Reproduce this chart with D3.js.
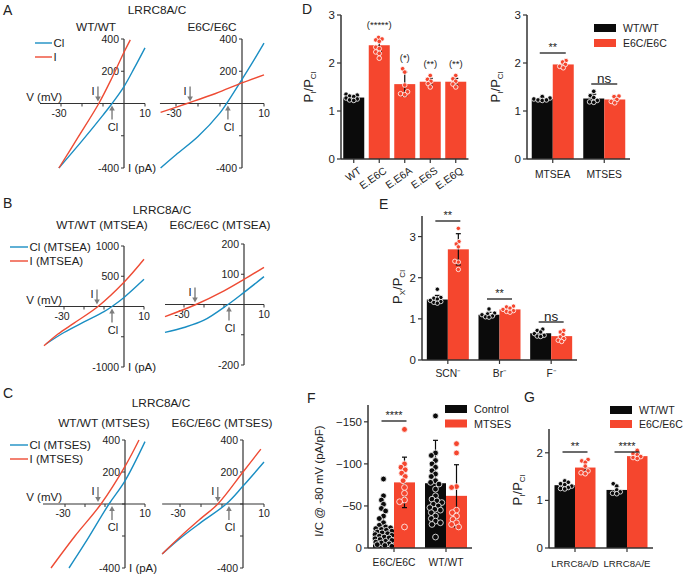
<!DOCTYPE html>
<html><head><meta charset="utf-8">
<script src="https://cdn.jsdelivr.net/npm/d3@7"></script>
<style>
body{margin:0;background:#fff}
svg{display:block}
text{font-family:"Liberation Sans",Arial,Helvetica,sans-serif;fill:#222}
</style></head>
<body><svg id="c" width="683" height="574"></svg>
<script>
// ---------------- DATA ----------------
// IV curves: [V (mV), I (pA)]
const ivA_WT_Cl  = [[-31,-400],[-20,-232],[-10,-72],[-5.7,0],[0,105],[5,222],[10,345]];
const ivA_WT_I   = [[-31,-400],[-22,-212],[-12,0],[-6,152],[0,318],[3,395]];
const ivA_E6C_Cl = [[-37,-400],[-30,-318],[-20,-205],[-10,-58],[-7,0],[0,150],[5,260],[10,375]];
const ivA_E6C_I  = [[-37,-55],[-25,0],[-12,62],[0,128],[10,178]];
const ivB_WT_Cl  = [[-39,-620],[-30,-430],[-20,-255],[-10,-85],[-6,0],[0,150],[10,450]];
const ivB_WT_I   = [[-40,-650],[-33,-455],[-25,-275],[-13,0],[0,400],[10,780]];
const ivB_E6C_Cl = [[-39.5,-92],[-30,-76],[-20,-52],[-8,0],[0,40],[10,92]];
const ivB_E6C_I  = [[-39.5,-40],[-24,0],[-10,45],[0,83],[10,123]];
const ivC_WT_Cl  = [[-28,-400],[-20,-245],[-8,0],[0,145],[10,390]];
const ivC_WT_I   = [[-37,-400],[-25,-200],[-12,0],[0,235],[7,400]];
const ivC_E6C_Cl = [[-38.5,-312],[-30,-215],[-20,-115],[-8,0],[0,112],[10,262]];
const ivC_E6C_I  = [[-38.5,-312],[-30,-206],[-20,-90],[-12,0],[0,200],[8.5,343]];
const ivRevI  = [-12.4,-23.6,-13.5,-24.5,-13.5,-12];
const ivRevCl = [-5.7,-6.4,-6,-7.5,-6.5,-6.7];
const ivXTicks = [-30,-20,-10,10];
const ivXLabels = [-30,10];
const ivTicks400 = [400,200,0,-200,-400];
const ivLabels400 = [400,200,-400];
const ivTicks1000 = [1000,500,0,-500,-1000];
const ivLabels1000 = [1000,500,-1000];
const ivTicks200 = [200,100,0,-100,-200];
const ivLabels200 = [200,100,-200];

// Panel D (left)
const dCats = ["WT","E.E6C","E.E6A","E.E6S","E.E6Q"];
const dMeans = [1.28,2.37,1.56,1.61,1.61];
const dSDs = [0.04,0.13,0.25,0.07,0.07];
const dPoints = [
  [1.35,1.33,1.31,1.30,1.27,1.25,1.23,1.22],
  [2.53,2.50,2.48,2.45,2.33,2.30,2.23,2.20,2.10],
  [1.88,1.81,1.54,1.40,1.36,1.34],
  [1.74,1.66,1.62,1.57,1.50],
  [1.74,1.67,1.62,1.56,1.50]
];
const dAnnot = ["","(*****)","(*)","(**)","(**)"];
const pTicks = [0,1,2,3];
// Panel D (right)
const dTreat = ["MTSEA","MTSES"];
const genos = ["WT/WT","E6C/E6C"];
const dTreatMeansWT = [1.25,1.26];
const dTreatMeansE6C = [1.97,1.24];
const dTreatSDsWT = [0.03,0.09];
const dTreatSDsE6C = [0.05,0.06];
const dTreatPtsWT = [[1.30,1.27,1.25,1.23,1.22,1.23],[1.41,1.32,1.28,1.22,1.19,1.18]];
const dTreatPtsE6C = [[2.05,2.02,1.97,1.93,1.90],[1.31,1.30,1.24,1.20,1.17]];
const dTreatSig = ["**","ns"];
// Panel E
const eIons = ["SCN\u207B","Br\u207B","F\u207B"];
const eMeansWT = [1.47,1.10,0.65];
const eMeansE6C = [2.69,1.23,0.58];
const eSDsWT = [0.10,0.06,0.05];
const eSDsE6C = [0.38,0.05,0.08];
const ePtsWT = [[1.72,1.52,1.50,1.48,1.45,1.42,1.40,1.38],[1.24,1.14,1.12,1.10,1.07,1.05,1.04],[0.75,0.72,0.68,0.64,0.60,0.58,0.57]];
const ePtsE6C = [[3.20,2.88,2.82,2.75,2.40,2.38,2.20],[1.31,1.29,1.26,1.23,1.20,1.18,1.16],[0.72,0.68,0.62,0.56,0.52,0.48,0.45]];
const eSig = ["**","**","ns"];
const eTicks = [0,1,2,3];
// Panel F
const fGenos = ["E6C/E6C","WT/WT"];
const fSeries = ["Control","MTSES"];
const fMeansCtrl = [-20,-77];
const fMeansMTSES = [-78,-62];
const fSDsCtrl = [18,51];
const fSDsMTSES = [30,37];
const fPtsCtrl = [
  [-82,-62,-57,-52,-47,-44,-38,-35,-30,-27,-25,-24,-23,-22,-21,-20,-19,-18,-17,-16,-15,-14,-13,-12,-11,-10,-9,-8,-7,-6,-5,-4,-3,-2],
  [-157,-113,-110,-104,-100,-96,-92,-88,-85,-80,-78,-76,-70,-62,-58,-56,-54,-52,-50,-48,-46,-45,-42,-38,-35,-32,-30,-28,-13]
];
const fPtsMTSES = [
  [-141,-100,-96,-93,-89,-85,-80,-72,-65,-57,-55,-25],
  [-124,-113,-73,-72,-45,-42,-38,-34,-30,-28,-25]
];
const fSig = ["****",""];
const fTicks = [0,-50,-100,-150];
// Panel G
const gCats = ["LRRC8A/D","LRRC8A/E"];
const gMeansWT = [1.32,1.22];
const gMeansE6C = [1.69,1.93];
const gSDsWT = [0.06,0.07];
const gSDsE6C = [0.12,0.06];
const gPtsWT = [[1.41,1.38,1.35,1.33,1.30,1.27,1.25,1.24],[1.35,1.30,1.22,1.18,1.15,1.14]];
const gPtsE6C = [[1.86,1.83,1.80,1.72,1.62,1.58,1.56],[2.05,1.98,1.96,1.92,1.90,1.88]];
const gSig = ["**","****"];
const gTicks = [0,1,2];

// ---------------- DRAWING ----------------
const svg = d3.select("#c");
const BLUE = "#1a8ec3", IVRED = "#ee4b34", BLACK = "#0b0b0b", RED = "#f5462e", GREY = "#7d7d7d", AX = "#333";

function txt(g, x, y, s, size, anchor) {
  return g.append("text").attr("x", x).attr("y", y).text(s)
    .attr("font-size", size || 11).attr("text-anchor", anchor || "middle")
    .attr("dominant-baseline", "central");
}

function arrow(g, x, yFrom, yTo) {
  const dir = yTo > yFrom ? 1 : -1;
  g.append("line").attr("x1", x).attr("x2", x).attr("y1", yFrom).attr("y2", yTo - dir*4)
    .attr("stroke", GREY).attr("stroke-width", 1.4);
  g.append("path").attr("d", `M${x-2.8},${yTo-dir*5}L${x+2.8},${yTo-dir*5}L${x},${yTo}Z`).attr("fill", GREY);
}

function ivPlot(p) {
  const g = svg.append("g");
  const x = d3.scaleLinear().domain([0,10]).range([p.x0, p.x0 + 10*p.k]);
  const y = d3.scaleLinear().domain(p.yDom).range(p.yRange);
  const y0 = y(0);
  g.append("line").attr("x1", x(p.vStart)).attr("x2", x(10)).attr("y1", y0).attr("y2", y0)
    .attr("stroke", AX).attr("stroke-width", 1.2);
  ivXTicks.forEach(v => g.append("line").attr("x1", x(v)).attr("x2", x(v)).attr("y1", y0).attr("y2", y0+3).attr("stroke", AX));
  ivXLabels.forEach(v => txt(g, x(v) + (v < 0 ? -2 : 0), y0 + 9, String(v), 10.5));
  g.append("line").attr("x1", x(0)).attr("x2", x(0)).attr("y1", y(p.yDom[0])).attr("y2", y(p.yDom[1]))
    .attr("stroke", AX).attr("stroke-width", 1.2);
  p.yTicks.forEach(v => g.append("line").attr("x1", x(0)-3).attr("x2", x(0)).attr("y1", y(v)).attr("y2", y(v)).attr("stroke", AX));
  p.yLabels.forEach(v => txt(g, x(0)-5, y(v), String(v), 10.5, "end"));
  const line = d3.line().x(d => x(d[0])).y(d => y(d[1])).curve(d3.curveCatmullRom.alpha(0.5));
  g.append("path").datum(p.cl).attr("d", line).attr("fill", "none").attr("stroke", BLUE).attr("stroke-width", 1.4);
  g.append("path").datum(p.i).attr("d", line).attr("fill", "none").attr("stroke", IVRED).attr("stroke-width", 1.4);
  const xi = x(ivRevI[p.idx]), xc = x(ivRevCl[p.idx]);
  arrow(g, xi, y0 - 17, y0 - 2);
  txt(g, xi - 5, y0 - 13, "I", 11);
  arrow(g, xc, y0 + 16, y0 + 2);
  txt(g, xc + 1, y0 + 23, "Cl", 11);
  if (p.left) {
    txt(g, 62, y0 - 7, "V (mV)", 11.5, "end");
    txt(g, x(0) + 4, y(p.yDom[0]), "I (pA)", 11.5, "start");
  }
}

function ivLegend(x1, x2, yA, yB, labels) {
  const g = svg.append("g");
  [[yA, BLUE, labels[0]], [yB, IVRED, labels[1]]].forEach(([yy, c, l]) => {
    g.append("line").attr("x1", x1).attr("x2", x2).attr("y1", yy).attr("y2", yy).attr("stroke", c).attr("stroke-width", 1.4);
    txt(g, x2 + 1.5, yy, l, 11.5, "start");
  });
}

[["A",3,10],["B",3,203],["C",3,393],["D",302,9],["E",379,204],["F",307,398],["G",524,397]].forEach(([s,x,y]) =>
  txt(svg, x, y, s, 14, "start"));
txt(svg, 157, 10, "LRRC8A/C", 11.8);
txt(svg, 96, 27, "WT/WT", 11.8);
txt(svg, 212, 27, "E6C/E6C", 11.8);
txt(svg, 162, 210, "LRRC8A/C", 11.8);
txt(svg, 102, 225, "WT/WT (MTSEA)", 11.8);
txt(svg, 220, 225, "E6C/E6C (MTSEA)", 11.8);
txt(svg, 161, 403, "LRRC8A/C", 11.8);
txt(svg, 104, 423, "WT/WT (MTSES)", 11.8);
txt(svg, 222, 423, "E6C/E6C (MTSES)", 11.8);

ivPlot({idx:0, left:true, x0:124, k:2.1, vStart:-40, yDom:[-400,400], yRange:[168,39], yTicks:ivTicks400, yLabels:ivLabels400, cl:ivA_WT_Cl, i:ivA_WT_I});
ivPlot({idx:1, x0:242, k:2.2, vStart:-37.3, yDom:[-400,400], yRange:[168,39], yTicks:ivTicks400, yLabels:ivLabels400, cl:ivA_E6C_Cl, i:ivA_E6C_I});
ivPlot({idx:2, left:true, x0:124, k:2.0, vStart:-39.5, yDom:[-1000,1000], yRange:[367,246], yTicks:ivTicks1000, yLabels:ivLabels1000, cl:ivB_WT_Cl, i:ivB_WT_I});
ivPlot({idx:3, x0:244, k:2.0, vStart:-39.5, yDom:[-200,200], yRange:[365,244], yTicks:ivTicks200, yLabels:ivLabels200, cl:ivB_E6C_Cl, i:ivB_E6C_I});
ivPlot({idx:4, left:true, x0:125, k:2.0, vStart:-41, yDom:[-400,400], yRange:[568,440], yTicks:ivTicks400, yLabels:ivLabels400, cl:ivC_WT_Cl, i:ivC_WT_I});
ivPlot({idx:5, x0:243, k:2.1, vStart:-38.5, yDom:[-400,400], yRange:[568,440], yTicks:ivTicks400, yLabels:ivLabels400, cl:ivC_E6C_Cl, i:ivC_E6C_I});
ivLegend(35, 52, 43, 57, ["Cl","I"]);
ivLegend(10, 28, 247, 261, ["Cl (MTSEA)","I (MTSEA)"]);
ivLegend(10, 28, 445, 459, ["Cl (MTSES)","I (MTSES)"]);

function swarm(vals, y, cx, half, r) {
  const order = d3.range(vals.length).sort((a, b) => d3.ascending(vals[a], vals[b]));
  const placed = [], out = new Array(vals.length);
  const d2 = (2*r*0.8)**2;
  order.forEach(i => {
    const yy = y(vals[i]);
    let best = 0, bestCost = Infinity;
    for (let k = 0; k <= 60; k++) {
      const dx = (k % 2 === 0 ? 1 : -1) * Math.ceil(k/2) * 0.7;
      if (Math.abs(dx) > half) continue;
      let ov = 0;
      placed.forEach(q => { const dd = (q[0]-(cx+dx))**2 + (q[1]-yy)**2; if (dd < d2) ov += d2 - dd; });
      if (ov === 0) { best = dx; bestCost = 0; break; }
      if (ov < bestCost) { bestCost = ov; best = dx; }
    }
    out[i] = [cx + best, yy];
    placed.push(out[i]);
  });
  return out;
}

function barChart(p) {
  const g = svg.append("g");
  const y = d3.scaleLinear().domain(p.yDom).range(p.yRange);
  const xg = d3.scalePoint().domain(p.groups).range(p.xRange).padding(0.5);
  const nS = p.series.length;
  const xs = d3.scaleBand().domain(p.series).range([-nS*p.barW/2, nS*p.barW/2]);
  const y0 = y(0);
  p.series.forEach((s, si) => p.groups.forEach((grp, gi) => {
    const bx = xg(grp) + xs(s), bw = xs.bandwidth(), cx = bx + bw/2;
    const col = p.color(si, gi);
    const m = p.means[si][gi], sd = p.sds[si][gi];
    g.append("rect").attr("x", bx).attr("width", bw).attr("y", Math.min(y(m), y0))
      .attr("height", Math.abs(y0 - y(m))).attr("fill", col);
    const pos = swarm(p.points[si][gi], y, cx, bw/2 - 1.5, p.r);
    g.append("line").attr("x1", cx).attr("x2", cx).attr("y1", y(m - sd)).attr("y2", y(m + sd)).attr("stroke", BLACK).attr("stroke-width", 1.2);
    [m - sd, m + sd].forEach(v => g.append("line").attr("x1", cx-2.5).attr("x2", cx+2.5).attr("y1", y(v)).attr("y2", y(v)).attr("stroke", BLACK).attr("stroke-width", 1.2));
    pos.forEach(q => g.append("circle").attr("cx", q[0]).attr("cy", q[1]).attr("r", p.r)
      .attr("fill", col).attr("stroke", "#fff").attr("stroke-width", 0.8));
  }));
  g.append("line").attr("x1", p.xRange[0]).attr("x2", p.xRange[0]).attr("y1", y0).attr("y2", p.yRange[1]).attr("stroke", AX).attr("stroke-width", 1.5);
  g.append("line").attr("x1", p.xRange[0]).attr("x2", p.xRange[1]).attr("y1", y0).attr("y2", y0).attr("stroke", AX).attr("stroke-width", 1.5);
  p.yTicks.forEach(v => {
    g.append("line").attr("x1", p.xRange[0]-4).attr("x2", p.xRange[0]).attr("y1", y(v)).attr("y2", y(v)).attr("stroke", AX).attr("stroke-width", 1.2);
    txt(g, p.xRange[0]-6, y(v), d3.format("d")(v), 11.5, "end");
  });
  p.groups.forEach((grp, gi) => {
    g.append("line").attr("x1", xg(grp)).attr("x2", xg(grp)).attr("y1", y0).attr("y2", y0+4).attr("stroke", AX).attr("stroke-width", 1.2);
    if (p.rotate) {
      g.append("text").attr("transform", `translate(${xg(grp)+6},${y0+10}) rotate(-35)`)
        .attr("text-anchor", "end").attr("dominant-baseline", "central").attr("font-size", 10.5).text(grp);
    } else {
      txt(g, xg(grp), y0 + p.labelDy, grp, p.labelSize || 10.3);
    }
  });
  return {g, y, xg};
}

function pLabel(x, y, sub, size) {
  const t = svg.append("text").attr("transform", `translate(${x},${y}) rotate(-90)`)
    .attr("text-anchor", "middle").attr("font-size", size || 13);
  t.append("tspan").text("P");
  t.append("tspan").text(sub).attr("font-size", 8).attr("dy", 3);
  t.append("tspan").text("/P").attr("dy", -3);
  t.append("tspan").text("Cl").attr("font-size", 8).attr("dy", 3);
}

function sigMark(g, cx, yLine, label, half, big) {
  g.append("line").attr("x1", cx-half).attr("x2", cx+half).attr("y1", yLine).attr("y2", yLine).attr("stroke", BLACK).attr("stroke-width", 1.2);
  txt(g, cx, yLine - 6, label, big ? 13.5 : 11);
}

function legend(x, y, dy, items, size) {
  items.forEach(([l, c], i) => {
    svg.append("rect").attr("x", x).attr("y", y + i*dy - 4).attr("width", 22).attr("height", 8).attr("fill", c);
    txt(svg, x + 29, y + i*dy, l, size || 10.5, "start");
  });
}

// D left
const dL = barChart({groups: dCats, series: ["P"], means: [dMeans], sds: [dSDs], points: [dPoints],
  yDom: [0,3], yRange: [159,15], xRange: [341,468.5], barW: 21, r: 2.3, yTicks: pTicks, rotate: true,
  color: (si, gi) => gi === 0 ? BLACK : RED});
dCats.forEach((c, i) => { if (dAnnot[i]) txt(dL.g, dL.xg(c), dL.y(dMeans[i] + dSDs[i]) - 15, dAnnot[i], 9.5); });
pLabel(313, 87, "I");

// D right
const dR = barChart({groups: dTreat, series: genos, means: [dTreatMeansWT, dTreatMeansE6C], sds: [dTreatSDsWT, dTreatSDsE6C],
  points: [dTreatPtsWT, dTreatPtsE6C], yDom: [0,3], yRange: [159,15], xRange: [527,630], barW: 21, r: 2.3, yTicks: pTicks, labelDy: 15,
  color: si => si === 0 ? BLACK : RED});
dTreat.forEach((t, i) => sigMark(dR.g, dR.xg(t), i === 0 ? 53 : 84, dTreatSig[i], 13, dTreatSig[i] === "ns"));
pLabel(500, 87, "I");
legend(594, 28, 15, [[genos[0], BLACK], [genos[1], RED]]);

// E
const eC = barChart({groups: eIons, series: genos, means: [eMeansWT, eMeansE6C], sds: [eSDsWT, eSDsE6C],
  points: [ePtsWT, ePtsE6C], yDom: [0,3.5], yRange: [360,216], xRange: [422,577], barW: 21, r: 2.2, yTicks: eTicks, labelDy: 13,
  color: si => si === 0 ? BLACK : RED});
[221, 299, 322].forEach((yl, i) => sigMark(eC.g, eC.xg(eIons[i]), yl, eSig[i], 12.5, eSig[i] === "ns"));
pLabel(402, 287, "X");

// F
const fC = barChart({groups: fGenos, series: fSeries, means: [fMeansCtrl, fMeansMTSES], sds: [fSDsCtrl, fSDsMTSES],
  points: [fPtsCtrl, fPtsMTSES], yDom: [0,-170], yRange: [548,405], xRange: [368,472], barW: 21, r: 2.9, yTicks: fTicks, labelDy: 14,
  color: si => si === 0 ? BLACK : RED});
sigMark(fC.g, fC.xg(fGenos[0]), 421, fSig[0], 12.5, false);
svg.append("text").attr("transform", "translate(323,481) rotate(-90)").attr("text-anchor", "middle")
  .attr("font-size", 11.5).text("I/C @ -80 mV (pA/pF)");
legend(445, 409, 14.5, [[fSeries[0], BLACK], [fSeries[1], RED]], 10.8);

// G
const gC = barChart({groups: gCats, series: genos, means: [gMeansWT, gMeansE6C], sds: [gSDsWT, gSDsE6C],
  points: [gPtsWT, gPtsE6C], yDom: [0,2.5], yRange: [548,429], xRange: [549,653], barW: 20.5, r: 2.3, yTicks: gTicks, labelDy: 15, labelSize: 9.6,
  color: si => si === 0 ? BLACK : RED});
gCats.forEach((c, i) => sigMark(gC.g, gC.xg(c), 452, gSig[i], 12.5, false));
pLabel(522, 490, "I");
legend(610, 410, 14, [[genos[0], BLACK], [genos[1], RED]], 10.5);
</script>
</body></html>
